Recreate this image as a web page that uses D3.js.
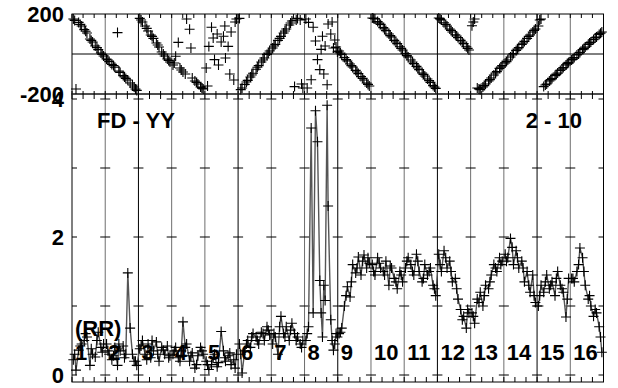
<!DOCTYPE html>
<html>
<head>
<meta charset="utf-8">
<script src="https://cdn.jsdelivr.net/npm/d3@7"></script>
<style>
  html, body { margin: 0; padding: 0; background: #fff; }
  svg { display: block; }
  text { font-family: "Liberation Sans", Arial, sans-serif; font-weight: bold; fill: #000; }
</style>
</head>
<body>
<svg id="chart" width="618" height="388"></svg>
<script>
// ---------------- DATA ----------------
const scanLabels = ["1","2","3","4","5","6","7","8","9","10","11","12","13","14","15","16"];
const ampTicks = [0, 2, 4];
const ampMinorTicks = [1, 3];
const phaseTicks = [-200, 200];
const panelTitle = "FD - YY";
const baselineLabel = "2 - 10";
const polLabel = "(RR)";

// samples, set A
const times = [
  0.04,0.12,0.20,0.29,0.37,0.45,0.54,0.62,0.70,0.79,0.87,0.95,
  1.04,1.12,1.20,1.29,1.37,1.45,1.54,1.62,1.68,1.75,1.87,1.95,
  2.04,2.12,2.20,2.29,2.37,2.45,2.54,2.62,2.70,2.79,2.87,2.95,
  3.04,3.12,3.20,3.29,3.34,3.45,3.54,3.62,3.70,3.79,3.87,3.95,
  4.04,4.12,4.20,4.29,4.37,4.49,4.56,4.62,4.70,4.79,4.87,4.95,
  5.04,5.12,5.20,5.29,5.37,5.45,5.54,5.62,5.70,5.79,5.87,5.95,
  6.04,6.12,6.20,6.29,6.37,6.45,6.54,6.62,6.70,6.79,6.87,6.95,
  7.04,7.12,7.20,7.26,7.33,7.39,7.46,7.54,7.62,7.68,7.71,7.79,7.87,7.95,
  8.04,8.12,8.20,8.29,8.37,8.45,8.54,8.62,8.70,8.79,8.87,8.95,
  9.04,9.12,9.20,9.29,9.37,9.45,9.54,9.62,9.70,9.79,9.87,9.95,
  10.04,10.12,10.20,10.29,10.37,10.45,10.54,10.62,10.70,10.79,10.87,10.95,
  11.04,11.12,11.20,11.29,11.37,11.45,11.54,11.62,11.70,11.79,11.87,11.95,
  12.04,12.12,12.20,12.29,12.37,12.45,12.54,12.62,12.70,12.79,12.87,12.95,
  13.04,13.12,13.20,13.29,13.37,13.45,13.54,13.62,13.70,13.79,13.87,13.95,
  14.04,14.12,14.20,14.29,14.37,14.45,14.54,14.62,14.70,14.79,14.87,14.95,
  15.04,15.12,15.20,15.29,15.37,15.45,15.54,15.62,15.70,15.79,15.87,15.95
];

const amplitude = [
  0.22,0.07,0.36,0.45,0.50,0.55,0.14,0.30,0.26,0.62,0.40,0.45,
  0.45,0.30,0.22,0.40,0.14,0.35,0.42,0.30,1.48,0.68,0.20,0.14,
  0.38,0.50,0.30,0.45,0.25,0.35,0.48,0.20,0.40,0.30,0.42,0.28,
  0.30,0.40,0.25,0.35,0.77,0.45,0.20,0.32,0.10,0.28,0.40,0.30,
  0.20,0.08,0.15,0.30,0.12,0.63,0.35,0.20,0.28,0.15,0.22,0.30,
  0.45,0.03,0.35,0.50,0.40,0.60,0.55,0.45,0.62,0.50,0.70,0.58,
  0.45,0.55,0.30,0.85,0.60,0.70,0.50,0.75,0.60,0.55,0.45,0.50,
  0.50,0.70,3.58,0.90,3.83,3.38,1.37,0.55,1.08,3.91,2.45,0.80,0.36,0.60,
  0.60,0.68,1.00,1.28,1.13,1.60,1.48,1.71,1.45,1.74,1.55,1.62,
  1.60,1.45,1.70,1.55,1.50,1.65,1.30,1.55,1.40,1.25,1.50,1.35,
  1.55,1.70,1.60,1.45,1.75,1.50,1.35,1.60,1.45,1.55,1.30,1.15,
  1.75,1.50,1.80,1.55,1.65,1.35,1.40,1.10,0.95,0.85,0.68,0.90,
  0.90,0.75,1.10,1.20,1.00,1.30,1.25,1.45,1.60,1.50,1.70,1.65,
  1.75,1.70,1.98,1.60,1.80,1.55,1.65,1.35,1.50,1.20,1.45,1.05,
  1.00,1.30,1.20,1.45,1.25,1.35,1.15,1.50,1.30,1.20,0.84,1.40,
  1.40,1.35,1.50,1.84,1.70,1.30,1.10,1.00,0.85,0.90,0.70,0.33
];

const phase = [
  175,-175,158,140,122,105,75,60,40,22,5,-10,
  -25,-38,-52,-66,107,-92,-108,-122,-130,-145,-165,-182,
  178,160,140,115,95,78,55,35,10,-10,-25,-40,
  -55,-11,58,-80,-90,175,124,-120,-135,-150,-165,-175,
  -70,38,134,-28,100,60,89,-20,38,110,-130,175,
  178,-170,-152,-132,-115,-96,-76,-58,-40,-20,-2,15,
  30,48,68,88,105,125,145,165,-163,178,170,-170,
  175,158,-129,134,65,-28,-78,89,40,-154,150,100,30,35,
  15,-2,-18,-35,-50,-65,-82,-98,-113,-130,-145,-160,
  180,175,162,148,132,117,100,85,68,52,36,20,
  2,-15,-30,-48,-62,-78,-95,-110,-125,-142,-158,-172,
  180,170,156,140,125,110,96,82,68,52,36,20,
  141,175,-170,-178,-165,-150,-135,-120,-105,-88,-72,-58,
  -45,-30,-15,2,18,32,48,63,78,95,110,125,
  140,175,-163,-150,-135,-122,-108,-95,-82,-68,-55,-42,
  -30,-18,-5,8,22,35,48,60,72,85,98,110
];

// samples, set B (interleaved)
const times2 = [
  0.08,0.25,0.41,0.58,0.75,0.91,
  1.08,1.25,1.41,1.58,1.82,1.91,
  2.08,2.25,2.41,2.58,2.75,2.91,
  3.08,3.25,3.41,3.58,3.75,3.91,
  4.08,4.25,4.41,4.60,4.75,4.91,
  5.08,5.25,5.41,5.58,5.75,5.91,
  6.08,6.25,6.41,6.58,6.75,6.91,
  7.08,7.50,7.58,7.83,7.91,7.99,
  8.08,8.25,8.41,8.58,8.75,8.91,
  9.08,9.25,9.41,9.58,9.75,9.91,
  10.08,10.25,10.41,10.58,10.75,10.91,
  11.08,11.25,11.41,11.58,11.75,11.91,
  12.08,12.25,12.41,12.58,12.75,12.91,
  13.08,13.25,13.41,13.58,13.75,13.91,
  14.08,14.25,14.41,14.58,14.75,14.91,
  15.08,15.25,15.41,15.58,15.75,15.91
];
const amplitude2 = [
  0.30,0.42,0.60,0.38,0.50,0.33,
  0.35,0.28,0.45,0.25,0.30,0.20,
  0.42,0.22,0.50,0.30,0.36,0.25,
  0.35,0.20,0.40,0.28,0.15,0.35,
  0.15,0.25,0.18,0.25,0.32,0.10,
  0.30,0.45,0.55,0.50,0.60,0.65,
  0.60,0.70,0.55,0.65,0.50,0.40,
  0.60,0.90,1.30,0.50,0.45,0.55,
  0.62,1.15,1.35,1.55,1.65,1.70,
  1.50,1.62,1.45,1.58,1.35,1.45,
  1.65,1.50,1.65,1.40,1.50,1.25,
  1.60,1.70,1.50,1.25,0.80,0.95,
  0.85,1.05,1.15,1.35,1.55,1.60,
  1.65,1.85,1.70,1.55,1.30,1.15,
  1.15,1.35,1.30,1.40,1.25,1.10,
  1.40,1.60,1.50,1.15,0.95,0.55
];
const phase2 = [
  168,148,114,68,32,-2,
  -30,-58,-85,-115,-155,-175,
  170,128,88,45,0,-32,
  -45,-70,-100,30,-142,-170,
  -160,80,-55,140,-100,160,
  -178,-140,-105,-66,-30,5,
  40,78,115,155,170,-150,
  -170,23,-100,160,70,10,
  5,-28,-58,-90,-122,-152,
  178,155,125,92,60,28,
  -8,-40,-70,-102,-133,-165,
  175,148,118,90,60,28,
  160,-175,-158,-128,-95,-65,
  -38,-5,25,55,88,118,
  170,-155,-128,-102,-75,-48,
  -25,0,28,55,80,104
];

// ---------------- LAYOUT ----------------
const svg = d3.select("#chart");
const L = 72, R = 603.5;
const topT = 14, topB = 94, botB = 382;

const x = d3.scaleLinear().domain([0, scanLabels.length]).range([L, R]);
const yP = d3.scaleLinear().domain([-200, 200]).range([topB, topT]);
const yA = d3.scaleLinear().domain([0, 4]).range([375, 99]);

const points = times.map((t, i) => ({ t, a: amplitude[i], p: phase[i] }))
  .concat(times2.map((t, i) => ({ t, a: amplitude2[i], p: phase2[i] })))
  .sort((a, b) => a.t - b.t);

// vertical scan separator lines
const bounds = d3.range(1, scanLabels.length);
svg.append("g").selectAll("line").data(bounds).join("line")
  .attr("x1", d => x(d)).attr("x2", d => x(d))
  .attr("y1", topT).attr("y2", botB)
  .attr("stroke", d => (d % 3 === 2) ? "#000" : "#6e6e6e")
  .attr("stroke-width", 1);

// phase zero line
svg.append("line")
  .attr("x1", L).attr("x2", R).attr("y1", yP(0)).attr("y2", yP(0))
  .attr("stroke", "#000").attr("stroke-width", 1);

// frames
svg.append("rect").attr("x", L).attr("y", topT).attr("width", R - L).attr("height", topB - topT)
  .attr("fill", "none").attr("stroke", "#000").attr("stroke-width", 1);
svg.append("rect").attr("x", L).attr("y", topB).attr("width", R - L).attr("height", botB - topB)
  .attr("fill", "none").attr("stroke", "#000").attr("stroke-width", 1);
svg.append("line").attr("x1", L).attr("x2", R).attr("y1", topB).attr("y2", topB)
  .attr("stroke", "#555").attr("stroke-width", 1.6);

// minor x ticks (every 1/3 unit)
const minorX = d3.range(0, scanLabels.length * 3 + 1).map(k => k / 3);
const tg = svg.append("g").attr("stroke", "#000").attr("stroke-width", 1);
minorX.forEach(v => {
  const px = x(v);
  tg.append("line").attr("x1", px).attr("x2", px).attr("y1", topT).attr("y2", topT + 4);
  tg.append("line").attr("x1", px).attr("x2", px).attr("y1", topB).attr("y2", topB + 5);
  tg.append("line").attr("x1", px).attr("x2", px).attr("y1", topB - 3).attr("y2", topB);
  tg.append("line").attr("x1", px).attr("x2", px).attr("y1", botB - 5).attr("y2", botB);
});

// y tick crosses at each gridline (amplitude)
const allV = d3.range(0, scanLabels.length + 1);
[...ampTicks, ...ampMinorTicks].forEach(v => {
  allV.forEach(i => {
    const px = x(i);
    tg.append("line")
      .attr("x1", Math.max(L, px - 5)).attr("x2", Math.min(R, px + 5))
      .attr("y1", yA(v)).attr("y2", yA(v));
  });
});

// amplitude connecting line
svg.append("path").datum(points)
  .attr("d", d3.line().x(d => x(d.t)).y(d => yA(d.a)))
  .attr("fill", "none").attr("stroke", "#555").attr("stroke-width", 1.4);

// crosses
function cross(px, py, s) {
  return `M${px - s},${py}h${2 * s}M${px},${py - s}v${2 * s}`;
}
svg.append("path")
  .attr("d", points.map(d => cross(x(d.t), yA(d.a), 5)).join(""))
  .attr("fill", "none").attr("stroke", "#000").attr("stroke-width", 1.1);
svg.append("path")
  .attr("d", points.map(d => cross(x(d.t), yP(d.p), 5)).join(""))
  .attr("fill", "none").attr("stroke", "#000").attr("stroke-width", 1.1);

// y axis labels
const fs = 22;
phaseTicks.forEach(v => {
  svg.append("text").attr("x", 64).attr("y", yP(v) + 8).attr("text-anchor", "end")
    .attr("font-size", fs).text(v);
});
ampTicks.forEach(v => {
  svg.append("text").attr("x", 64).attr("y", yA(v) + 8).attr("text-anchor", "end")
    .attr("font-size", fs).text(v);
});

// scan labels
svg.append("g").selectAll("text").data(scanLabels).join("text")
  .attr("x", (d, i) => x(i) + 3).attr("y", 360)
  .attr("font-size", fs).text(d => d);

// annotations
svg.append("text").attr("x", 97).attr("y", 128).attr("font-size", fs).text(panelTitle);
svg.append("text").attr("x", 582).attr("y", 128).attr("text-anchor", "end").attr("font-size", fs).text(baselineLabel);
svg.append("text").attr("x", 75).attr("y", 336).attr("font-size", fs).text(polLabel);
</script>
</body>
</html>
